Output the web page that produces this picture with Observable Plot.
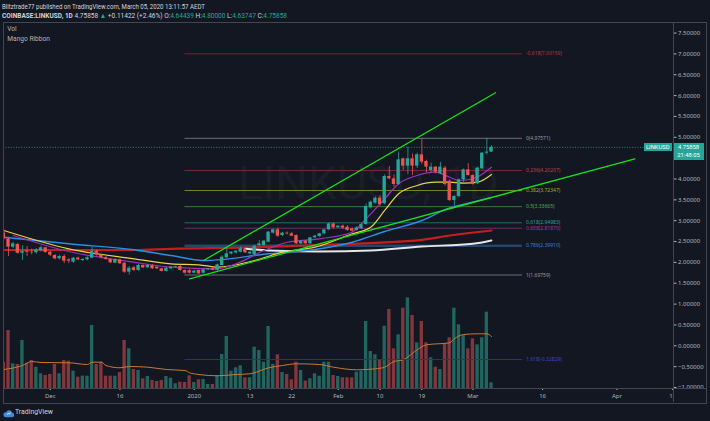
<!DOCTYPE html>
<html><head><meta charset="utf-8">
<script src="https://cdn.jsdelivr.net/npm/d3@7"></script>
<script src="https://cdn.jsdelivr.net/npm/@observablehq/plot@0.6"></script>
<style>
html,body{margin:0;padding:0;background:#131722;}
body{position:relative;width:710px;height:421px;overflow:hidden;font-family:Roboto,"Liberation Sans",sans-serif;color:#d1d4dc;}
.a{position:absolute;white-space:nowrap;line-height:1;}
</style></head><body>
<script>
// ---------------- DATA ----------------
const firstCandle = "2019-11-21";
const opens  = [2.70,2.565,2.365,2.43,2.22,2.27,2.245,2.23,2.28,2.35, 2.246,2.166,2.086,2.142,2.06,2.006,2.102,2.046,2.062,2.102, 2.27,2.174,2.11,2.07,1.982,2.062,1.98,1.766,1.87,1.806, 1.926,1.87,1.926,1.886,1.846,1.782,1.846,1.886,1.90,1.806, 1.80,1.742,1.806,1.741,1.82,1.85,1.805,1.925,2.11,2.205, 2.229,2.245,2.309,2.205,2.181,2.405,2.405,2.485,2.701,2.781, 2.645,2.701,2.685,2.645,2.445,2.509,2.445,2.589,2.621,2.685, 2.781,2.924,2.829,2.869,2.845,2.805,2.765,2.805,2.909,3.309, 3.421,3.540,3.405,4.060,4.004,3.868,4.484,4.308,4.484,4.308, 4.580,4.420,4.204,4.284,4.124,4.260,3.948,3.485,3.580,3.980, 4.220,4.084,3.884,4.244,4.620,4.64439];
const highs  = [2.78,2.60,2.48,2.46,2.40,2.38,2.32,2.33,2.39,2.36, 2.26,2.19,2.17,2.18,2.09,2.12,2.13,2.09,2.13,2.36, 2.30,2.20,2.14,2.09,2.09,2.08,2.00,1.90,1.90,1.95, 1.94,1.95,1.95,1.90,1.86,1.88,1.90,1.91,1.93,1.82, 1.83,1.81,1.82,1.85,1.86,1.87,1.96,2.16,2.35,2.25, 2.28,2.37,2.33,2.25,2.42,2.525,2.53,2.74,2.80,2.82, 2.72,2.73,2.72,2.66,2.53,2.53,2.60,2.65,2.70,2.79, 2.95,2.95,2.88,2.90,2.88,2.82,2.86,2.93,3.40,3.47, 3.57,3.60,4.10,4.30,4.10,4.64,4.50,4.76,4.60,4.62, 4.976,4.45,4.38,4.30,4.40,4.30,3.98,3.60,4.00,4.24, 4.37,4.10,4.28,4.63,4.976,4.80];
const lows   = [2.54,2.14,2.33,2.20,2.05,2.14,2.18,2.20,2.25,2.22, 2.14,2.06,2.06,1.97,1.97,1.98,2.04,2.02,2.04,2.09, 2.15,2.08,2.05,1.97,1.97,1.95,1.74,1.6976,1.78,1.79, 1.85,1.86,1.83,1.83,1.77,1.77,1.83,1.87,1.79,1.72, 1.72,1.73,1.71,1.72,1.80,1.80,1.79,1.92,2.10,2.18, 2.20,2.23,2.22,2.18,2.17,2.38,2.39,2.47,2.68,2.60, 2.62,2.66,2.62,2.43,2.42,2.43,2.44,2.57,2.60,2.67, 2.76,2.80,2.82,2.79,2.75,2.73,2.75,2.79,2.89,3.28, 3.40,3.35,3.38,3.98,3.80,3.85,4.20,4.10,4.08,4.25, 4.35,4.15,4.15,4.12,4.10,3.83,3.46,3.33,3.55,3.90, 4.07,3.85,3.87,4.22,4.58,4.63747];
const closes = [2.565,2.365,2.445,2.22,2.26,2.245,2.23,2.30,2.35,2.238, 2.174,2.086,2.142,2.03,2.03,2.102,2.062,2.07,2.11,2.27, 2.174,2.11,2.07,1.99,2.07,1.966,1.766,1.862,1.806,1.926, 1.87,1.926,1.846,1.846,1.782,1.862,1.886,1.90,1.806,1.742, 1.742,1.79,1.726,1.821,1.85,1.81,1.941,2.125,2.205,2.245, 2.269,2.325,2.229,2.245,2.389,2.445,2.509,2.725,2.781,2.629, 2.701,2.685,2.629,2.445,2.509,2.445,2.589,2.629,2.685,2.781, 2.924,2.829,2.869,2.821,2.765,2.749,2.829,2.909,3.341,3.445, 3.540,3.389,4.060,4.004,3.868,4.460,4.308,4.484,4.308,4.580, 4.404,4.284,4.284,4.164,4.284,3.868,3.485,3.580,3.980,4.220, 4.084,3.868,4.260,4.620,4.644,4.75858];
const volumes = [263,580,247,240,480,253,280,213,147,130, 140,240,147,280,273,173,113,123,123,630, 240,263,123,123,123,160,480,397,190,180, 97,120,80,70,80,120,103,47,63,60, 127,60,87,90,40,40,130,340,520,173, 207,227,107,107,413,380,263,620,240,337, 160,140,87,263,180,73,97,147,123,263, 263,130,120,107,107,107,163,173,670,370, 337,290,623,790,397,537,803,907,730,457, 670,457,307,213,190,447,507,803,637,530, 397,497,437,507,763,57];
const volumeMA = [["2019-11-21",190],["2019-11-25",230],["2019-11-27",270],["2019-11-29",260],["2019-12-05",257],["2019-12-09",240],["2019-12-10",263],["2019-12-12",263],["2019-12-13",230],["2019-12-16",207],["2019-12-18",220],["2019-12-22",213],["2019-12-26",190],["2019-12-30",180],["2019-12-31",157],["2020-01-02",140],["2020-01-06",127],["2020-01-10",140],["2020-01-13",147],["2020-01-17",207],["2020-01-20",230],["2020-01-23",247],["2020-01-28",240],["2020-01-31",213],["2020-02-05",187],["2020-02-09",197],["2020-02-11",213],["2020-02-13",270],["2020-02-15",287],["2020-02-18",387],["2020-02-20",437],["2020-02-25",457],["2020-02-26",497],["2020-02-28",540],["2020-03-02",547],["2020-03-04",547],["2020-03-05",520]];

// Mango Ribbon moving averages
const maYellow = [["2019-11-21",2.765],["2019-12-05",2.326],["2019-12-19",2.086],["2019-12-27",1.966],["2020-01-02",1.942],["2020-01-06",1.885],["2020-01-14",2.046],["2020-01-20",2.245],["2020-01-27",2.365],["2020-02-04",2.686],["2020-02-08",2.844],["2020-02-11",3.245],["2020-02-14",3.645],["2020-02-18",3.844],["2020-02-22",3.923],["2020-02-25",3.923],["2020-02-28",3.899],["2020-03-02",3.923],["2020-03-05",4.108]];
const maPurple = [["2019-11-23",2.645],["2019-12-05",2.261],["2019-12-19",2.005],["2019-12-27",1.885],["2020-01-06",1.847],["2020-01-10",1.966],["2020-01-16",2.285],["2020-01-21",2.484],["2020-01-28",2.566],["2020-02-04",2.724],["2020-02-07",3.046],["2020-02-11",3.525],["2020-02-14",3.885],["2020-02-18",4.084],["2020-02-22",4.163],["2020-02-25",4.043],["2020-02-27",3.964],["2020-03-01",4.005],["2020-03-05",4.283]];
const maBlue = [["2019-11-21",2.604],["2019-12-05",2.446],["2019-12-19",2.302],["2019-12-27",2.165],["2020-01-03",2.046],["2020-01-17",2.206],["2020-01-28",2.326],["2020-02-04",2.484],["2020-02-11",2.741],["2020-02-19",3.005],["2020-02-25",3.309],["2020-02-27",3.365],["2020-03-05",3.556]];
const maRed = [["2019-11-21",2.297],["2019-12-19",2.297],["2019-12-27",2.326],["2020-01-13",2.357],["2020-01-28",2.417],["2020-02-19",2.542],["2020-02-25",2.645],["2020-03-05",2.765]];
const maWhite = [["2020-01-12",2.326],["2020-01-17",2.285],["2020-01-28",2.261],["2020-02-08",2.285],["2020-02-19",2.381],["2020-03-01",2.446],["2020-03-05",2.525]];

// drawn trend lines
const trendUpper = [["2020-01-03",2.046],["2020-03-05T21:00",6.067]];
const trendLower = [["2019-12-31",1.607],["2020-04-04T21:00",4.484]];

// Fibonacci retracement
const fibStart = "2019-12-30", fibEnd = "2020-03-11T16:00";
const fibRatios = [-0.618, 0, 0.236, 0.382, 0.5, 0.618, 0.658, 0.786, 1, 1.618];
const fibValues = [7.00159, 4.97571, 4.20207, 3.72347, 3.33665, 2.94983, 2.81870, 2.39910, 1.69759, -0.32829];
const fibLineColors = ["#7c2328","#6b6e78","#7d2a30","#7f7f26","#3c7a3c","#1d6e63","#6e2c6e","#22466d","#6b6e78","#2b2e96"];
const fibTextColors = ["#b03a40","#9598a1","#b8434b","#a9a733","#4caf50","#26a69a","#a13aa1","#3a7fcf","#9598a1","#4044c4"];
const fibWidths = [1,1,1,1,1,1,1,2.6,1,1];

// axes (4.5 is hidden behind the last-price tag)
const yTicks = [-1,-0.5,0,0.5,1,1.5,2,2.5,3,3.5,4,5,5.5,6,6.5,7,7.5];
const xTickDates = ["2019-12-01","2019-12-16","2020-01-01","2020-01-13","2020-01-22","2020-02-01","2020-02-10","2020-02-19","2020-03-01","2020-03-16","2020-04-01","2020-04-13"];
const xTickLabels = ["Dec","16","2020","13","22","Feb","10","19","Mar","16","Apr","13"];

// header values
const symbol = "COINBASE:LINKUSD, 1D";
const lastPrice = 4.75858, change = "+0.11422 (+2.46%)";
const ohlc = [["O","4.64439"],["H","4.80000"],["L","4.63747"],["C","4.75858"]];
const countdown = "21:48:05";

// ---------------- SETUP ----------------
const DAY = 864e5;
const D = s => new Date(s.length === 10 ? s + "T00:00:00Z" : s + ":00Z");
const t0 = Date.UTC(2019, 11, 1);
const xDomain = [new Date(t0 - 10.078 * DAY), new Date(t0 + 134.19 * DAY)];
const yDomain = [-1.024, 7.753];
const W = 703, H = 380, MR = 33, MB = 14, LEFT = 3, TOP = 22;
const UP = "#26a69a", DOWN = "#ef5350";
const start = D(firstCandle);
const candles = opens.map((o, i) => ({
  date: new Date(+start + i * DAY), o, h: highs[i], l: lows[i], c: closes[i], v: volumes[i], up: closes[i] >= o
}));
const x1 = d => new Date(+d.date - DAY / 2), x2 = d => new Date(+d.date + DAY / 2);
const up = candles.filter(d => d.up), dn = candles.filter(d => !d.up);
const pts = a => a.map(([s, v]) => ({date: D(s), v}));
const fibs = fibRatios.map((r, i) => ({r, v: fibValues[i], lc: fibLineColors[i], tc: fibTextColors[i], w: fibWidths[i],
  label: `${r}(${fibValues[i].toFixed(5)})`}));
const labelMap = new Map(xTickDates.map((s, i) => [+D(s), xTickLabels[i]]));

const body = document.body;
function el(tag, css, html) { const e = document.createElement(tag); e.className = "a"; e.style.cssText = css; if (html != null) e.innerHTML = html; body.appendChild(e); return e; }
function fit(e, w) { const r = e.getBoundingClientRect().width; e.style.transformOrigin = "0 50%"; e.style.transform = `scaleX(${w / r})`; }

// watermark
el("div", "left:238px;top:160px;font-size:46px;color:rgba(255,255,255,0.045);font-family:Roboto;", "LINKUSD, 1D");

// volume pane
const volPlot = Plot.plot({
  width: W, height: H, marginTop: 0, marginLeft: 0, marginRight: MR, marginBottom: MB,
  x: {type: "utc", domain: xDomain, axis: null},
  y: {domain: [0, 3660], axis: null},
  style: {background: "transparent"},
  marks: [
    Plot.rect(candles.filter(d => d.up), {x1, x2, y1: 0, y2: "v", fill: "#20665f", insetLeft: 0.65, insetRight: 0.65, clip: true}),
    Plot.rect(candles.filter(d => !d.up), {x1, x2, y1: 0, y2: "v", fill: "#83363b", insetLeft: 0.65, insetRight: 0.65, clip: true}),
    Plot.line(pts(volumeMA), {x: "date", y: "v", stroke: "#c47a36", strokeWidth: 1, curve: "monotone-x"})
  ]
});
volPlot.style.cssText = `position:absolute;left:${LEFT}px;top:${TOP}px;`;
body.appendChild(volPlot);

// price pane
const fmtY = d => d.toFixed(5).replace("-", "\u2212");
const pricePlot = Plot.plot({
  width: W, height: H, marginTop: 0, marginLeft: 0, marginRight: MR, marginBottom: MB,
  x: {type: "utc", domain: xDomain},
  y: {domain: yDomain},
  style: {background: "transparent", fontFamily: "Roboto", fontSize: "6px", overflow: "visible"},
  marks: [
    Plot.axisY({anchor: "right", ticks: yTicks, tickFormat: fmtY, tickSize: 2.5, tickPadding: 2, color: "#b2b5be", fontSize: 6}),
    Plot.axisX({anchor: "bottom", ticks: xTickDates.map(D), tickFormat: d => labelMap.get(+d), tickSize: 2, tickPadding: 3, color: "#b2b5be", fontSize: 6}),
    // fib levels
    ...fibs.map(f => Plot.ruleY([f], {y: "v", x1: () => D(fibStart), x2: () => D(fibEnd), stroke: f.lc, strokeWidth: f.w})),
    Plot.text(fibs, {x: () => D(fibEnd), y: "v", text: "label", fill: "tc", dx: 3.5, textAnchor: "start", fontSize: 5}),
    // last price line
    Plot.ruleY([lastPrice], {stroke: UP, strokeDasharray: "1,1.6", strokeWidth: 0.8}),
    // ribbon
    Plot.line(pts(maRed), {x: "date", y: "v", stroke: "#c41f1f", strokeWidth: 2.2, curve: "monotone-x"}),
    Plot.line(pts(maWhite), {x: "date", y: "v", stroke: "#e6e6e6", strokeWidth: 1.9, curve: "monotone-x"}),
    Plot.line(pts(maBlue), {x: "date", y: "v", stroke: "#2a8fe6", strokeWidth: 1.4, curve: "monotone-x"}),
    Plot.line(pts(maYellow), {x: "date", y: "v", stroke: "#e8d34a", strokeWidth: 1.2, curve: "monotone-x"}),
    Plot.line(pts(maPurple), {x: "date", y: "v", stroke: "#a02fb8", strokeWidth: 1.2, curve: "monotone-x"}),
    // trend lines
    Plot.line(pts(trendUpper), {x: "date", y: "v", stroke: "#17e017", strokeWidth: 1.3}),
    Plot.line(pts(trendLower), {x: "date", y: "v", stroke: "#17e017", strokeWidth: 1.3}),
    // candles
    Plot.ruleX(up, {x: "date", y1: "l", y2: "h", stroke: UP, strokeWidth: 0.8, clip: true}),
    Plot.ruleX(dn, {x: "date", y1: "l", y2: "h", stroke: DOWN, strokeWidth: 0.8, clip: true}),
    Plot.rect(up, {x1, x2, y1: "o", y2: "c", fill: UP, insetLeft: 0.65, insetRight: 0.65, clip: true}),
    Plot.rect(dn, {x1, x2, y1: "o", y2: "c", fill: DOWN, insetLeft: 0.65, insetRight: 0.65, clip: true})
  ]
});
pricePlot.style.cssText = `position:absolute;left:${LEFT}px;top:${TOP}px;`;
body.appendChild(pricePlot);
const ys = pricePlot.scale("y");

// cover the corner of the two axes, then the frame lines
el("div", "left:673.5px;top:388.5px;width:33px;height:13.5px;background:#131722;");
el("div", "left:3px;top:21.5px;width:702px;height:380px;border:1px solid #434651;");
el("div", "left:673px;top:22px;width:1px;height:380px;background:#434651;");
el("div", "left:3px;top:388px;width:703px;height:1px;background:#434651;");

// price tags
const yp = TOP + ys.apply(lastPrice);
const tag = "background:#26a69a;color:#fff;font-size:5.8px;text-align:center;height:8.4px;line-height:8.4px;";
el("div", tag + `left:673.5px;top:${yp - 4.2}px;width:30px;`, lastPrice.toFixed(5));
el("div", tag + `left:673.5px;top:${yp + 4.6}px;width:30px;`, countdown);
el("div", tag + `left:644px;top:${yp - 4.2}px;width:27.5px;`, "LINKUSD");

// header
const h1 = el("div", "left:1.7px;top:2.5px;font-size:7.2px;color:#d1d4dc;", "Blitztrade77 published on TradingView.com, March 05, 2020 13:11:57 AEDT");
fit(h1, 203);
const tc = s => `<span style="color:#26a69a">${s}</span>`;
const h2 = el("div", "left:1.7px;top:11.5px;font-size:7.2px;color:#d1d4dc;",
  `<b>${symbol}</b> ${lastPrice.toFixed(5)} ${tc("\u25B2")} ${change} ` + ohlc.map(([k, v]) => `${k}:${tc(v)}`).join(" "));
fit(h2, 285);
el("div", "left:7.3px;top:26px;font-size:6.6px;color:#b2b5be;", "Vol");
el("div", "left:7.3px;top:35.5px;font-size:6.6px;color:#b2b5be;", "Mango Ribbon");

// footer logo
el("div", "left:3px;top:405px;width:11px;height:10px;",
  `<svg width="11" height="10" viewBox="0 0 11 10"><path d="M2.6 9.2h6.2a2.2 2.2 0 0 0 0.3-4.4 3.1 3.1 0 0 0-5.9-0.6A2.5 2.5 0 0 0 2.6 9.2z" fill="#3d8bd9"/><path d="M4 6.8l1.3-1.6 1 1 1.4-1.8" stroke="#fff" stroke-width="0.8" fill="none"/></svg>`);
const tv = el("div", "left:14.5px;top:407.5px;font-size:7.2px;color:#d1d4dc;", "TradingView");
fit(tv, 38);
</script>
</body></html>
